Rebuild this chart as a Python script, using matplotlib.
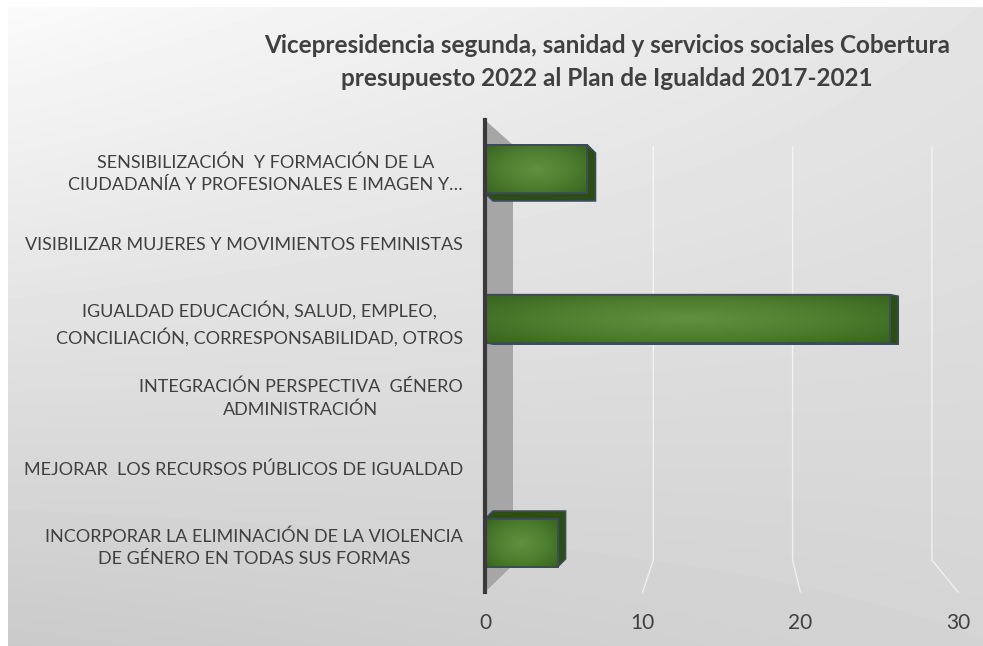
import numpy as np
import matplotlib.pyplot as plt
from matplotlib.patches import Polygon, Rectangle
from matplotlib.colors import LinearSegmentedColormap

plt.rcParams['font.family'] = ['Lato', 'DejaVu Sans']

# Datos: de abajo hacia arriba
categorias = [
    'INCORPORAR LA ELIMINACIÓN DE LA VIOLENCIA\nDE GÉNERO EN TODAS SUS FORMAS',
    'MEJORAR  LOS RECURSOS PÚBLICOS DE IGUALDAD',
    'INTEGRACIÓN PERSPECTIVA  GÉNERO\nADMINISTRACIÓN',
    'IGUALDAD EDUCACIÓN, SALUD, EMPLEO,\nCONCILIACIÓN, CORRESPONSABILIDAD, OTROS',
    'VISIBILIZAR MUJERES Y MOVIMIENTOS FEMINISTAS',
    'SENSIBILIZACIÓN  Y FORMACIÓN DE LA\nCIUDADANÍA Y PROFESIONALES E IMAGEN Y…',
]
cobertura = [4.6, 0, 0, 25.7, 0, 6.5]
ticks_x = [0, 10, 20, 30]
titulo = ('Vicepresidencia segunda, sanidad y servicios sociales Cobertura\n'
          'presupuesto 2022 al Plan de Igualdad 2017-2021')

W, H = 983, 646
fig = plt.figure(figsize=(W / 100, H / 100), dpi=100)
fig.patch.set_facecolor('white')

# Fondo degradado gris
bg = fig.add_axes([8 / W, 0, 1 - 8 / W, 1 - 7 / H])
bg.set_axis_off()
gx, gy = np.meshgrid(np.linspace(0, 1, 200), np.linspace(0, 1, 200))
tl, tr, bl, br = 250, 228, 202, 212
grad = (tl * (1 - gx) * (1 - gy) + tr * gx * (1 - gy)
        + bl * (1 - gx) * gy + br * gx * gy) / 255
bg.imshow(grad, cmap='gray', vmin=0, vmax=1, aspect='auto',
          extent=[0, 1, 0, 1], interpolation='bilinear')
bg.set_xlim(0, 1)
bg.set_ylim(0, 1)

# Ejes principales (plano frontal)
x0, x1, ytop, ybot = 485, 958, 120, 592
ylim = (-0.655, 5.655)
ax = fig.add_axes([x0 / W, 1 - ybot / H, (x1 - x0) / W, (ybot - ytop) / H])
ax.patch.set_alpha(0)
px_x = 30 / (x1 - x0)
px_y = (ylim[1] - ylim[0]) / (ybot - ytop)

# Pared lateral gris
ax.add_patch(Polygon([(0, 0), (28 / 473, 27 / 472), (28 / 473, 1 - 25 / 472), (0, 1)],
                     closed=True, transform=ax.transAxes, facecolor='#a6a6a6',
                     edgecolor='none', zorder=1))

# Líneas de cuadrícula (plano del fondo y suelo)
for v in ticks_x[1:]:
    xb = (29 + 13.93 * v) / 473
    xf = v / 30
    ax.plot([xb, xb, xf], [1 - 27 / 472, 32 / 472, 0], transform=ax.transAxes,
            color='white', lw=1.0, alpha=0.65, zorder=1, clip_on=False)

# Barras con efecto de volumen
verde = LinearSegmentedColormap.from_list('verde', ['#3a6620', '#4f8030', '#5f9140'])
alto = 0.64
ojo = 2.5
for i, val in enumerate(cobertura):
    if val <= 0:
        continue
    y0b, y1b = i - alto / 2, i + alto / 2
    dx = 8 * px_x
    dy = -(i - ojo) * 3.2 * px_y
    if dy >= 0:
        pts = [(0, y0b), (val, y0b), (val + dx, y0b + dy), (val + dx, y1b + dy),
               (dx, y1b + dy), (0, y1b)]
    else:
        pts = [(0, y1b), (val, y1b), (val + dx, y1b + dy), (val + dx, y0b + dy),
               (dx, y0b + dy), (0, y0b)]
    ax.add_patch(Polygon(pts, closed=True, facecolor='#2d4d16',
                         edgecolor='#3b4b5c', lw=1.2, zorder=3))
    frente = ax.barh(i, val, height=alto, color='#4f8030', edgecolor='#3b4b5c',
                     lw=1.2, zorder=4)[0]
    # degradado del frente: más oscuro en los bordes
    u, w = np.meshgrid(np.linspace(-1, 1, 120), np.linspace(-1, 1, 40))
    r = np.sqrt(u ** 2 + (w * 0.9) ** 2)
    img = ax.imshow(1 - np.clip(r, 0, 1.3) / 1.3, cmap=verde, aspect='auto',
                    extent=[0, val, y0b, y1b], zorder=4.5, interpolation='bilinear')
    img.set_clip_path(frente)
    ax.add_patch(Rectangle((0, y0b), val, alto, fill=False, edgecolor='#3b4b5c',
                           lw=1.2, zorder=5))

ax.set_xlim(0, 30)
ax.set_ylim(*ylim)

ax.set_yticks(range(len(categorias)))
ax.set_yticklabels(categorias, fontsize=13, color='#404040', linespacing=1.5)
for t in ax.get_yticklabels():
    t.set_multialignment('center')
ax.set_xticks(ticks_x)
ax.set_xticklabels([str(t) for t in ticks_x], fontsize=15, color='#404040')
ax.tick_params(axis='y', length=0, pad=16)
ax.tick_params(axis='x', length=0, pad=15)

for s in ['top', 'right', 'bottom']:
    ax.spines[s].set_visible(False)
ax.spines['left'].set_color('#3a3a3a')
ax.spines['left'].set_linewidth(3)
ax.spines['left'].set_zorder(6)

fig.text(607 / W, 1 - 62 / H, titulo, ha='center', va='center', fontsize=17.5,
         fontweight='bold', color='#404040', linespacing=1.5)

fig.savefig('out.png', dpi=100)
